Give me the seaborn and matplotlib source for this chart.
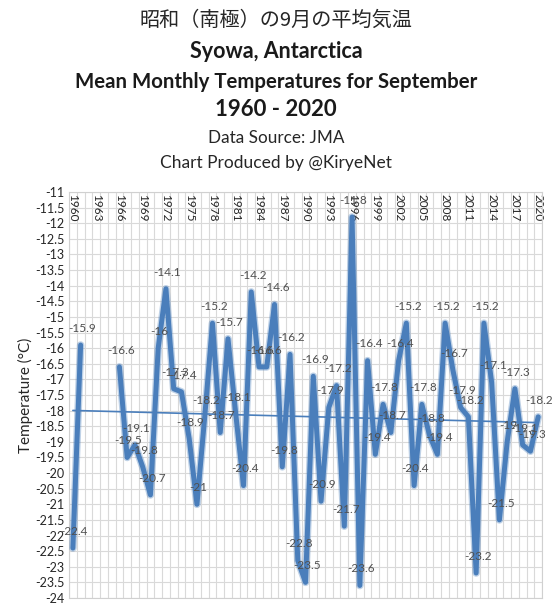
import numpy as np
import pandas as pd
import matplotlib
matplotlib.use("Agg")
import matplotlib.pyplot as plt
import seaborn as sns

years = list(range(1960, 2021))
temps = [-22.4, -15.9, np.nan, np.nan, np.nan, np.nan,
         -16.6, -19.5, -19.1, -19.8, -20.7,
         -16.0, -14.1, -17.3, -17.4, -18.9, -21.0, -18.2, -15.2, -18.7, -15.7,
         -18.1, -20.4, -14.2, -16.6, -16.6, -14.6, -19.8, -16.2, -22.8, -23.5,
         -16.9, -20.9, -17.9, -17.2, -21.7, -11.8, -23.6, -16.4, -19.4, -17.8,
         -18.7, -16.4, -15.2, -20.4, -17.8, -18.8, -19.4, -15.2, -16.7, -17.9,
         -18.2, -23.2, -15.2, -17.1, -21.5, -19.0, -17.3, -19.1, -19.3, -18.2]
label_years = list(range(1960, 2021, 3))
y_ticks = list(np.arange(-24, -10.9, 0.5))

sns.set_theme(style="white")
plt.rcParams['font.family'] = ['Lato', 'DejaVu Sans']

df = pd.DataFrame({"year": years, "temp": temps})
df["seg"] = df["temp"].isna().cumsum()
d = df.dropna().copy()

fig = plt.figure(figsize=(5.52, 6.10), dpi=100)
ax = fig.add_axes([0.125, 0.0197, 0.857, 0.6655])

blue = "#4A7EBB"
sns.regplot(data=d, x="year", y="temp", scatter=False, ci=None, ax=ax,
            color=blue, line_kws=dict(lw=1.2, zorder=3))
sns.lineplot(data=d, x="year", y="temp", units="seg", estimator=None, ax=ax,
             color=blue, lw=5.5, alpha=0.35, zorder=4, solid_capstyle="round",
             solid_joinstyle="round")
sns.lineplot(data=d, x="year", y="temp", units="seg", estimator=None, ax=ax,
             color=blue, lw=3.6, zorder=4, solid_capstyle="round",
             solid_joinstyle="round")

for yr, t in zip(d["year"], d["temp"]):
    ax.annotate(f"{t:g}", (yr, t), xytext=(1, 12), textcoords="offset points",
                ha="center", va="center", fontsize=8.5, color="#505050", zorder=5)

ax.set_xlim(1959.5, 2020.5)
ax.set_ylim(-24, -11)
ax.set_yticks(y_ticks)
ax.set_yticklabels([f"{v:g}" for v in y_ticks], fontsize=9, color="#262626")
ax.set_xticks(np.arange(1959.5, 2021, 1))
ax.set_xticklabels([])
ax.tick_params(axis="both", length=0, pad=3)
ax.grid(True, color="#d9d9d9", lw=0.8)
ax.set_axisbelow(True)
for s in ax.spines.values():
    s.set_color("#d0d0d0")
    s.set_linewidth(0.8)
ax.set_xlabel("")
ax.set_ylabel("Temperature (°C)", fontsize=11, color="#262626", labelpad=2)

tr = ax.get_xaxis_transform()
for yr in label_years:
    ax.text(yr, 0.994, str(yr), transform=tr, rotation=-90, ha="center", va="top",
            fontsize=8.5, color="#262626", zorder=2)

fig.text(0.5, 1 - 20 / 610, "昭和（南極）の9月の平均気温", ha="center", va="center",
         fontsize=14.5, color="#262626", family=["Noto Sans CJK JP", "DejaVu Sans"])
fig.text(0.5, 1 - 52 / 610, "Syowa, Antarctica", ha="center", va="center",
         fontsize=15.5, fontweight="bold", color="#1a1a1a")
fig.text(0.5, 1 - 82 / 610, "Mean Monthly Temperatures for September", ha="center",
         va="center", fontsize=14.7, fontweight="bold", color="#1a1a1a")
fig.text(0.5, 1 - 110 / 610, "1960 - 2020", ha="center", va="center",
         fontsize=16, fontweight="bold", color="#1a1a1a")
fig.text(0.5, 1 - 138 / 610, "Data Source: JMA", ha="center", va="center",
         fontsize=12.3, color="#262626")
fig.text(0.5, 1 - 163 / 610, "Chart Produced by @KiryeNet", ha="center", va="center",
         fontsize=12.5, color="#262626")

fig.savefig("out.png", dpi=100)
